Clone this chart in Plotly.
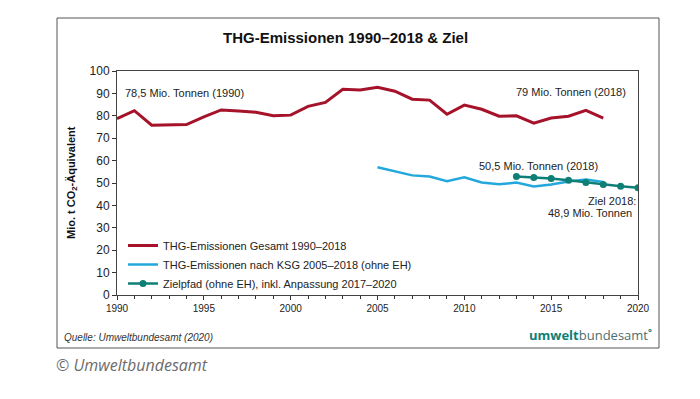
import plotly.graph_objects as go

# ---- data ----
years_total = list(range(1990, 2019))
thg_total = [78.7, 82.3, 75.8, 76.1, 76.1, 79.5, 82.6, 82.1, 81.6, 80.0, 80.3,
             84.2, 86.0, 91.8, 91.5, 92.7, 91.0, 87.4, 87.0, 80.7, 84.8,
             82.9, 79.8, 80.0, 76.7, 79.0, 79.8, 82.4, 79.0]

years_ksg = list(range(2005, 2019))
thg_ksg = [57.0, 55.3, 53.4, 52.9, 50.8, 52.5, 50.2, 49.4, 50.2, 48.4,
           49.3, 50.7, 51.6, 50.5]

years_ziel = list(range(2013, 2021))
ziel = [52.9, 52.5, 52.0, 51.2, 50.2, 49.3, 48.5, 47.9]

x_ticks = [1990, 1995, 2000, 2005, 2010, 2015, 2020]
y_ticks = list(range(0, 101, 10))

names = ["THG-Emissionen Gesamt 1990–2018",
         "THG-Emissionen nach KSG 2005–2018 (ohne EH)",
         "Zielpfad (ohne EH), inkl. Anpassung 2017–2020"]

RED = "#A5122A"
BLUE = "#22A8DC"
TEAL = "#0E7F76"
FONT = "Liberation Sans, Arial, sans-serif"

# plot area in pixels (for paper-coordinate conversion)
W, H = 700, 399
L, R, T, B = 117, 62, 71, 104
pw, ph = W - L - R, H - T - B


def px(xp):
    return (xp - L) / pw


def py(yp):
    return (H - B - yp) / ph


fig = go.Figure()
fig.add_trace(go.Scatter(x=years_total, y=thg_total, mode="lines", name=names[0],
                         line=dict(color=RED, width=3)))
fig.add_trace(go.Scatter(x=years_ksg, y=thg_ksg, mode="lines", name=names[1],
                         line=dict(color=BLUE, width=2.5)))
fig.add_trace(go.Scatter(x=years_ziel, y=ziel, mode="lines+markers", name=names[2],
                         line=dict(color=TEAL, width=2.5),
                         marker=dict(color=TEAL, size=7)))

fig.update_layout(
    width=W, height=H,
    margin=dict(l=L, r=R, t=T, b=B),
    paper_bgcolor="white", plot_bgcolor="white",
    font=dict(family=FONT, size=11, color="#222"),
    showlegend=True,
    legend=dict(x=px(123), y=py(231), xanchor="left", yanchor="top",
                bgcolor="rgba(0,0,0,0)", font=dict(size=11, color="#222"),
                itemwidth=30, tracegroupgap=0),
    xaxis=dict(range=[1990, 2020], tickvals=x_ticks, ticks="outside", ticklen=4,
               tickcolor="#333", showline=True, linecolor="#444", linewidth=1,
               mirror=True, showgrid=False, zeroline=False,
               tickfont=dict(size=10, color="#222"),
               minor=dict(dtick=1, ticks="outside", ticklen=3, tickcolor="#333")),
    yaxis=dict(range=[0, 100], tickvals=y_ticks, ticks="outside", ticklen=4,
               tickcolor="#333", showline=True, linecolor="#444", linewidth=1,
               mirror=True, showgrid=False, zeroline=False,
               tickfont=dict(size=12, color="#222")),
)

# outer frame
fig.add_shape(type="rect", xref="paper", yref="paper",
              x0=px(57), x1=px(659), y0=py(348), y1=py(18),
              line=dict(color="#555", width=1), fillcolor="rgba(0,0,0,0)", layer="below")

ann = []
ann.append(dict(text="<b>THG-Emissionen 1990–2018 & Ziel</b>", xref="paper", yref="paper",
                x=px(345), y=py(38), xanchor="center", yanchor="middle", showarrow=False,
                font=dict(size=15, color="#111")))
ann.append(dict(text="<b>Mio. t CO<sub>2</sub>-Äquivalent</b>", xref="paper", yref="paper",
                x=px(72), y=py(183), xanchor="center", yanchor="middle", textangle=-90,
                showarrow=False, font=dict(size=11, color="#111")))
ann.append(dict(text="78,5 Mio. Tonnen (1990)", x=1990.35, y=90, xanchor="left",
                yanchor="middle", showarrow=False))
ann.append(dict(text="79 Mio. Tonnen (2018)", x=2019.42, y=90.6, xanchor="right",
                yanchor="middle", showarrow=False))
ann.append(dict(text="50,5 Mio. Tonnen (2018)", x=2017.8, y=57.6, xanchor="right",
                yanchor="middle", showarrow=False))
ann.append(dict(text="Ziel 2018:", x=2020, y=42, xanchor="right",
                yanchor="middle", showarrow=False))
ann.append(dict(text="48,9 Mio. Tonnen", x=2019.77, y=36.6, xanchor="right",
                yanchor="middle", showarrow=False))
ann.append(dict(text="<i>Quelle: Umweltbundesamt (2020)</i>", xref="paper", yref="paper",
                x=px(62), y=py(337), xanchor="left", yanchor="middle", showarrow=False,
                font=dict(size=10, color="#333")))
ann.append(dict(text="<b>umwelt</b><span style='color:#4E6E6E'>bundesamt</span><sup><b>°</b></sup>",
                xref="paper", yref="paper", x=px(654), y=py(334), xanchor="right",
                yanchor="middle", showarrow=False,
                font=dict(family="Open Sans, sans-serif", size=13, color="#0E7F76")))
ann.append(dict(text="<i>© Umweltbundesamt</i>", xref="paper", yref="paper",
                x=px(54), y=py(365), xanchor="left", yanchor="middle", showarrow=False,
                font=dict(family="Open Sans, sans-serif", size=16, color="#6B6B6B")))
fig.update_layout(annotations=ann)

fig.write_html("out.html", config={"displayModeBar": False},
               post_script="document.body.style.margin='0px';")
